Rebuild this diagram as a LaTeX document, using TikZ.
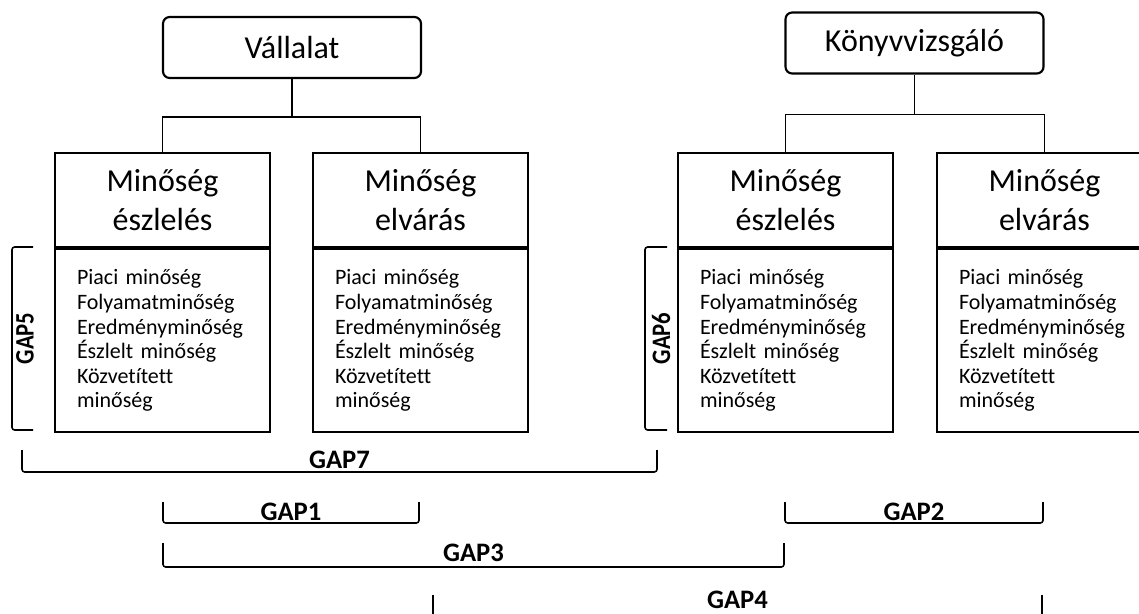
\documentclass[tikz,border=0pt]{standalone}
\usepackage{fontspec}
\setmainfont{Carlito}[Ligatures=NoCommon]
\usetikzlibrary{positioning}

\tikzset{
	rootbox/.style={draw, line width=1.6pt, rounded corners=5pt, minimum width=193.5pt, minimum height=45.75pt, font=\fontsize{24}{29}\selectfont},
	headbox/.style={draw, line width=1.6pt, minimum width=161.25pt, minimum height=70.5pt, align=center, font=\fontsize{24}{29.25}\selectfont},
	listbox/.style={draw, line width=1.6pt, minimum width=161.25pt, minimum height=137.25pt, text width=128.25pt, inner xsep=16.5pt, align=left, font=\fontsize{16.5}{18.4}\selectfont},
	conn/.style={line width=1pt},
	gapline/.style={line width=1.2pt, rounded corners=2pt},
	gaplbl/.style={inner sep=0pt, font=\fontsize{20}{24}\selectfont\bfseries},
}

\newcommand{\qlist}{Piaci minőség\\Folyamatminőség\\Eredményminőség\\Észlelt minőség\\Közvetített\\minőség}

\begin{document}
\begin{tikzpicture}[x=0.75pt, y=-0.75pt]
		\useasboundingbox (0,0) rectangle (1139,614);
		\clip (0,0) rectangle (1139,614);
		
		\node[rootbox] (vallalat) at (292,47.5) {Vállalat};
		\node[headbox] (v-eszl) at (162.5,200) {Minőség\\észlelés};
		\node[listbox, below=0pt of v-eszl] (v-eszl-l) {\qlist};
		\node[headbox] (v-elv) at (420.5,200) {Minőség\\elvárás};
		\node[listbox, below=0pt of v-elv] (v-elv-l) {\qlist};
		\coordinate (vfork) at ([yshift=-28.5pt]vallalat.south);
		\draw[conn] (vallalat.south) -- (vfork) -| (v-eszl.north);
		\draw[conn] (vfork) -| (v-elv.north);
		
		\node[rootbox] (konyv) at (914.5,43) {Könyvvizsgáló};
		\node[headbox] (k-eszl) at (785.5,200) {Minőség\\észlelés};
		\node[listbox, below=0pt of k-eszl] (k-eszl-l) {\qlist};
		\node[headbox] (k-elv) at (1044.5,200) {Minőség\\elvárás};
		\node[listbox, below=0pt of k-elv] (k-elv-l) {\qlist};
		\coordinate (kfork) at ([yshift=-30pt]konyv.south);
		\draw[conn] (konyv.south) -- (kfork) -| (k-eszl.north);
		\draw[conn] (kfork) -| (k-elv.north);
		
		% gaps
		\draw[gapline] (33,247) -- (12,247) -- node[gaplbl, xshift=9.75pt, rotate=90, xscale=0.85] (gap5) {GAP5} (12,430) -- (33,430);
		\draw[gapline] (667,247) -- (645,247) -- node[gaplbl, xshift=12pt, rotate=90, xscale=0.85] (gap6) {GAP6} (645,430) -- (667,430);
		\draw[gapline] (22,450) -- (22,472) -- node[gaplbl, yshift=9pt] (gap7) {GAP7} (657,472) -- (657,450);
		\draw[gapline] (163,502) -- (163,523) -- node[gaplbl, yshift=8.5pt] (gap1) {GAP1} (419,523) -- (419,502);
		\draw[gapline] (785,502) -- (785,523) -- node[gaplbl, yshift=8.5pt] (gap2) {GAP2} (1043,523) -- (1043,502);
		\draw[gapline] (163,543) -- (163,567) -- node[gaplbl, yshift=10.5pt] (gap3) {GAP3} (784,567) -- (784,543);
		\draw[gapline] (433,595) -- (433,628) -- node[gaplbl, yshift=21pt] (gap4) {GAP4} (1042,628) -- (1042,595);
	\end{tikzpicture}
\end{document}
